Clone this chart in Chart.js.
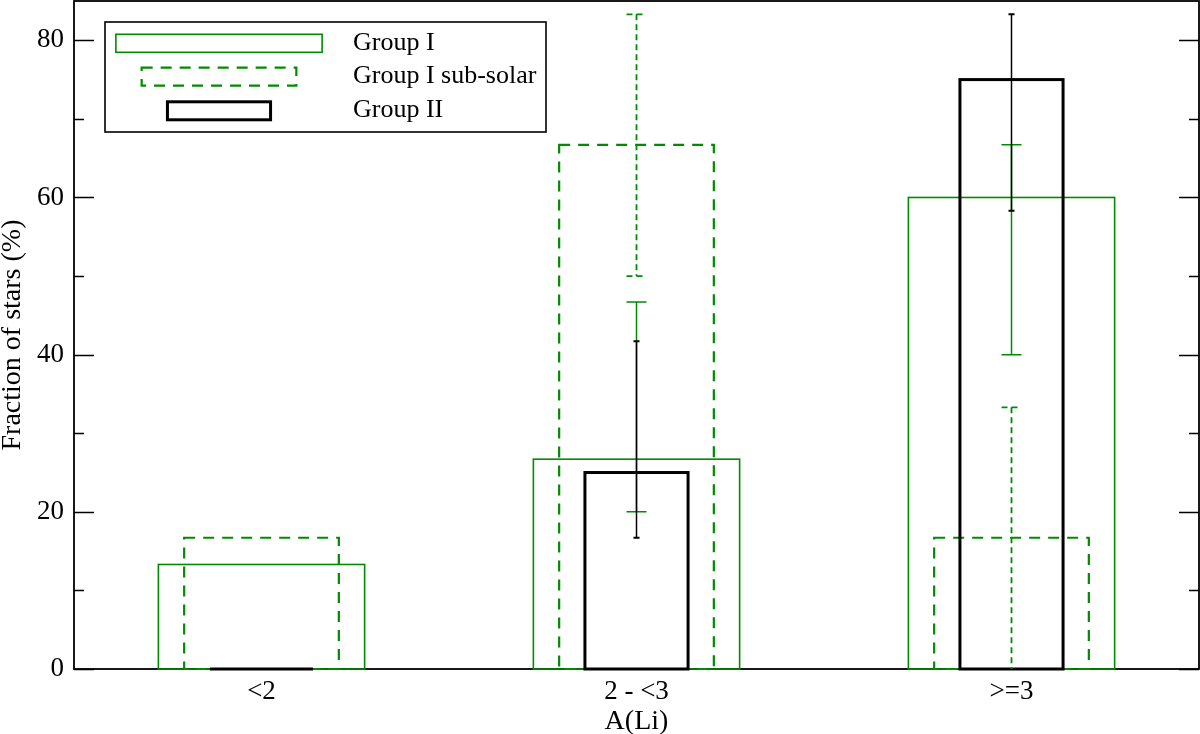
<!DOCTYPE html>
<html>
<head>
<meta charset="utf-8">
<script src="https://cdn.jsdelivr.net/npm/chart.js@4.4.1/dist/chart.umd.min.js"></script>
<style>
html,body{margin:0;padding:0;background:#fff;}
#wrap{width:1200px;height:734px;}
</style>
</head>
<body>
<div id="wrap"><canvas id="c" width="1200" height="734"></canvas></div>
<script>
// ---- data ----
const categories = ['<2', '2 - <3', '>=3'];
const seriesNames = ['Group I', 'Group I sub-solar', 'Group II'];
const groupI = [13.3, 26.7, 60];
const groupISubSolar = [16.7, 66.7, 16.7];
const groupII = [0, 25, 75];
const groupIErrLow = [null, 20, 40];
const groupIErrHigh = [null, 46.7, 66.7];
const subSolarErrLow = [null, 50, 0];
const subSolarErrHigh = [null, 83.3, 33.3];
const groupIIErrLow = [null, 16.7, 58.3];
const groupIIErrHigh = [null, 41.7, 83.3];
const yMajorTicks = [0, 20, 40, 60, 80];
const yMinorTicks = [10, 30, 50, 70];

const GREEN = 'rgb(0,139,0)';
const FONT = '"Liberation Serif", "Times New Roman", serif';

const styles = [
  {color: GREEN, width: 1.6, dash: [], errWidth: 1.5, errDash: [], cap: 20, capWidth: 1.5},
  {color: GREEN, width: 2.2, dash: [11, 8], errWidth: 1.8, errDash: [6, 4], cap: 20, capWidth: 1.8},
  {color: '#000', width: 3, dash: [], errWidth: 1.5, errDash: [], cap: 6, capWidth: 2}
];
const errLows = [groupIErrLow, subSolarErrLow, groupIIErrLow];
const errHighs = [groupIErrHigh, subSolarErrHigh, groupIIErrHigh];

const drawPlugin = {
  id: 'custom',
  beforeDatasetsDraw(chart) {
    const ctx = chart.ctx, a = chart.chartArea, y = chart.scales.y;
    ctx.save();
    ctx.strokeStyle = '#000';
    ctx.lineWidth = 1.6;
    ctx.setLineDash([]);
    ctx.beginPath();
    yMajorTicks.forEach(v => {
      const p = Math.round(y.getPixelForValue(v)) + 0.5;
      ctx.moveTo(a.left, p); ctx.lineTo(a.left + 20, p);
      ctx.moveTo(a.right, p); ctx.lineTo(a.right - 20, p);
    });
    yMinorTicks.forEach(v => {
      const p = Math.round(y.getPixelForValue(v)) + 0.5;
      ctx.moveTo(a.left, p); ctx.lineTo(a.left + 10, p);
      ctx.moveTo(a.right, p); ctx.lineTo(a.right - 10, p);
    });
    ctx.stroke();
    ctx.lineWidth = 1.8;
    ctx.strokeRect(a.left, a.top, a.right - a.left, a.bottom - a.top);
    ctx.restore();
  },
  afterDatasetsDraw(chart) {
    const ctx = chart.ctx, y = chart.scales.y;
    ctx.save();
    // bars
    chart.data.datasets.forEach((ds, i) => {
      const st = styles[i];
      const meta = chart.getDatasetMeta(i);
      meta.data.forEach(el => {
        const p = el.getProps(['x', 'y', 'base', 'width'], true);
        ctx.strokeStyle = st.color;
        ctx.lineWidth = st.width;
        ctx.setLineDash(st.dash);
        ctx.lineDashOffset = 0;
        ctx.strokeRect(p.x - p.width / 2, Math.min(p.y, p.base), p.width, Math.abs(p.base - p.y));
      });
    });
    // error bars
    chart.data.datasets.forEach((ds, i) => {
      const st = styles[i];
      const meta = chart.getDatasetMeta(i);
      meta.data.forEach((el, j) => {
        const lo = errLows[i][j], hi = errHighs[i][j];
        if (lo === null || hi === null) return;
        const x = el.x;
        const yl = y.getPixelForValue(lo), yh = y.getPixelForValue(hi);
        ctx.strokeStyle = st.color;
        ctx.lineWidth = st.errWidth;
        ctx.setLineDash(st.errDash);
        ctx.beginPath();
        ctx.moveTo(x, yh); ctx.lineTo(x, yl);
        ctx.stroke();
        ctx.lineWidth = st.capWidth;
        ctx.beginPath();
        ctx.moveTo(x - st.cap / 2, yh); ctx.lineTo(x + st.cap / 2, yh);
        if (lo > 0) { ctx.moveTo(x - st.cap / 2, yl); ctx.lineTo(x + st.cap / 2, yl); }
        ctx.stroke();
      });
    });
    // legend
    ctx.setLineDash([]);
    ctx.fillStyle = '#fff';
    ctx.fillRect(105, 22, 441, 110);
    ctx.strokeStyle = '#000';
    ctx.lineWidth = 1.6;
    ctx.strokeRect(105, 22, 441, 110);
    const rowY = [43.3, 76.7, 110.8];
    const cx = 219;
    chart.data.datasets.forEach((ds, i) => {
      const st = styles[i];
      const w = chart.getDatasetMeta(i).data[0].width;
      ctx.strokeStyle = st.color;
      ctx.lineWidth = st.width;
      ctx.setLineDash(st.dash);
      ctx.strokeRect(cx - w / 2, rowY[i] - 9, w, 18);
      ctx.setLineDash([]);
      ctx.fillStyle = '#000';
      ctx.font = '26px ' + FONT;
      ctx.textAlign = 'left';
      ctx.textBaseline = 'middle';
      ctx.fillText(ds.label, 353, rowY[i] - 0.5);
    });
    ctx.restore();
  }
};

const mk = (label, data, bp) => ({
  label, data, barPercentage: bp, categoryPercentage: 1,
  backgroundColor: 'rgba(0,0,0,0)', borderWidth: 0
});

new Chart(document.getElementById('c'), {
  type: 'bar',
  data: {
    labels: categories,
    datasets: [
      mk(seriesNames[0], groupI, 0.55),
      mk(seriesNames[1], groupISubSolar, 0.4125),
      mk(seriesNames[2], groupII, 0.275)
    ]
  },
  options: {
    responsive: false,
    animation: false,
    devicePixelRatio: 1,
    grouped: false,
    layout: {padding: {top: 1, right: 1, left: 0, bottom: 0}},
    plugins: {legend: {display: false}, tooltip: {enabled: false}},
    events: [],
    scales: {
      x: {
        type: 'category',
        offset: true,
        grid: {display: false, drawTicks: false},
        border: {display: false},
        ticks: {color: '#000', font: {family: FONT, size: 27}, padding: 7, maxRotation: 0},
        title: {display: true, text: 'A(Li)', color: '#000', font: {family: FONT, size: 28, lineHeight: 0.9}, padding: 0},
        afterFit: s => { s.height = 65; s.paddingLeft = 0; s.paddingRight = 0; }
      },
      y: {
        min: 0, max: 85,
        grid: {display: false, drawTicks: false},
        border: {display: false},
        afterBuildTicks: s => { s.ticks = yMajorTicks.map(v => ({value: v})); },
        ticks: {color: '#000', font: {family: FONT, size: 27}, padding: 10},
        title: {display: true, text: 'Fraction of stars (%)', color: '#000', font: {family: FONT, size: 28, lineHeight: 0.9}, padding: 0},
        afterFit: s => { s.width = 74; s.paddingTop = 0; s.paddingBottom = 0; }
      }
    }
  },
  plugins: [drawPlugin]
});
</script>
</body>
</html>
